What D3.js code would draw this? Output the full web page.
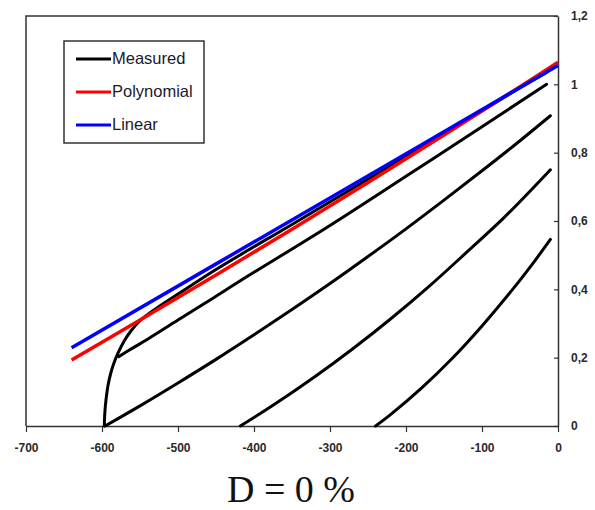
<!DOCTYPE html>
<html>
<head>
<meta charset="utf-8">
<script src="https://cdn.jsdelivr.net/npm/d3@7"></script>
<style>
  html, body { margin: 0; padding: 0; background: #fff; }
  svg { display: block; }
</style>
</head>
<body>
<svg id="chart" width="595" height="510"></svg>
<script>
// ---- data ----
const xTicks = [-700, -600, -500, -400, -300, -200, -100, 0];
const xTickLabels = ["-700", "-600", "-500", "-400", "-300", "-200", "-100", "0"];
const yTicks = [0, 0.2, 0.4, 0.6, 0.8, 1, 1.2];
const yTickLabels = ["0", "0,2", "0,4", "0,6", "0,8", "1", "1,2"];

const seriesNames = ["Measured", "Polynomial", "Linear"];
const seriesColors = ["#000000", "#ff0000", "#0000ff"];

const measuredEnvelope = [[-597,0],[-596.5,0.03],[-595.5,0.06],[-594,0.09],[-592,0.12],[-589,0.15],[-585,0.18],[-579,0.213],[-571,0.248],[-562,0.278],[-550,0.308],[-530,0.342],[-500,0.386],[-450,0.458],[-350,0.59],[-250,0.722],[-150,0.855],[-50,0.99],[-15,1.035]];
const measured2 = [[-578,0.203],[-565,0.221],[-540,0.254],[-500,0.31],[-454,0.374],[-418,0.425],[-300,0.587],[-200,0.731],[-100,0.876],[-15,1.0]];
const measured3 = [[-596,0],[-550,0.059],[-500,0.126],[-450,0.195],[-400,0.267],[-350,0.341],[-300,0.417],[-250,0.496],[-200,0.577],[-150,0.661],[-100,0.747],[-50,0.835],[-10,0.908]];
const measured4 = [[-418,0],[-378,0.056],[-320,0.144],[-270,0.226],[-220,0.314],[-170,0.408],[-120,0.509],[-70,0.612],[-10,0.75]];
const measured5 = [[-240,0],[-220,0.034],[-180,0.110],[-140,0.196],[-100,0.293],[-60,0.399],[-30,0.485],[-10,0.546]];
const polynomial = [[-640,0.193],[-550,0.31],[-450,0.442],[-350,0.576],[-250,0.713],[-150,0.852],[-50,0.993],[0,1.065]];
const linear = [[-640,0.229],[-320,0.642],[0,1.055]];

// ---- layout ----
const svg = d3.select("#chart");
const L = 26, R = 558, T = 16, B = 426;
const x = d3.scaleLinear().domain([-700, 0]).range([L, R]);
const y = d3.scaleLinear().domain([0, 1.2]).range([B, T]);
const tickFont = "Liberation Sans, Arial, sans-serif";

// frame (left + top)
svg.append("path")
  .attr("d", `M${L},${B}V${T}H${R}`)
  .attr("fill", "none").attr("stroke", "#333").attr("stroke-width", 1.5);

// x axis
const xAxis = svg.append("g").attr("transform", `translate(0,${B})`)
  .call(d3.axisBottom(x).tickValues(xTicks).tickSize(6).tickSizeOuter(0).tickPadding(11)
    .tickFormat((d, i) => xTickLabels[i]));
xAxis.select(".domain").attr("stroke", "#333").attr("stroke-width", 1.5);
xAxis.selectAll(".tick line").attr("stroke", "#333").attr("stroke-width", 1.2);
xAxis.selectAll("text").attr("font-family", tickFont).attr("font-size", 12)
  .attr("font-weight", "bold").attr("fill", "#2a2a2a");

// right y axis
const yAxis = svg.append("g").attr("transform", `translate(${R},0)`)
  .call(d3.axisRight(y).tickValues(yTicks).tickSize(0).tickSizeOuter(0).tickPadding(13)
    .tickFormat((d, i) => yTickLabels[i]));
yAxis.select(".domain").attr("stroke", "#333").attr("stroke-width", 1.5);
yAxis.selectAll(".tick").append("line").attr("x1", -4).attr("x2", 0).attr("stroke", "#333").attr("stroke-width", 1.2);
yAxis.selectAll("text").attr("font-family", tickFont).attr("font-size", 12)
  .attr("font-weight", "bold").attr("fill", "#2a2a2a");

// lines
const line = d3.line().x(d => x(d[0])).y(d => y(d[1])).curve(d3.curveCatmullRom.alpha(0.5));
const measuredCurves = [measuredEnvelope, measured2, measured3, measured4, measured5];
svg.append("g").selectAll("path").data(measuredCurves).join("path")
  .attr("d", line).attr("fill", "none").attr("stroke", seriesColors[0])
  .attr("stroke-width", 3).attr("stroke-linejoin", "round").attr("stroke-linecap", "round");
svg.append("path").datum(polynomial).attr("d", line).attr("fill", "none")
  .attr("stroke", seriesColors[1]).attr("stroke-width", 3.5);
svg.append("path").datum(linear).attr("d", line).attr("fill", "none")
  .attr("stroke", seriesColors[2]).attr("stroke-width", 3.5);

// legend
const lg = svg.append("g");
lg.append("rect").attr("x", 64).attr("y", 41).attr("width", 140).attr("height", 102)
  .attr("fill", "#fff").attr("stroke", "#333").attr("stroke-width", 1.5);
seriesNames.forEach((name, i) => {
  const yy = 59 + i * 33;
  lg.append("line").attr("x1", 76).attr("x2", 111).attr("y1", yy).attr("y2", yy)
    .attr("stroke", seriesColors[i]).attr("stroke-width", 3);
  lg.append("text").attr("x", 112).attr("y", yy + 5).text(name)
    .attr("font-family", tickFont).attr("font-size", 16.5).attr("fill", "#1a1a2a");
});

// title
svg.append("text").attr("x", 291).attr("y", 502).attr("text-anchor", "middle")
  .attr("font-family", "Liberation Serif, Times New Roman, serif").attr("font-size", 38)
  .attr("fill", "#111").text("D = 0 %");
</script>
</body>
</html>
